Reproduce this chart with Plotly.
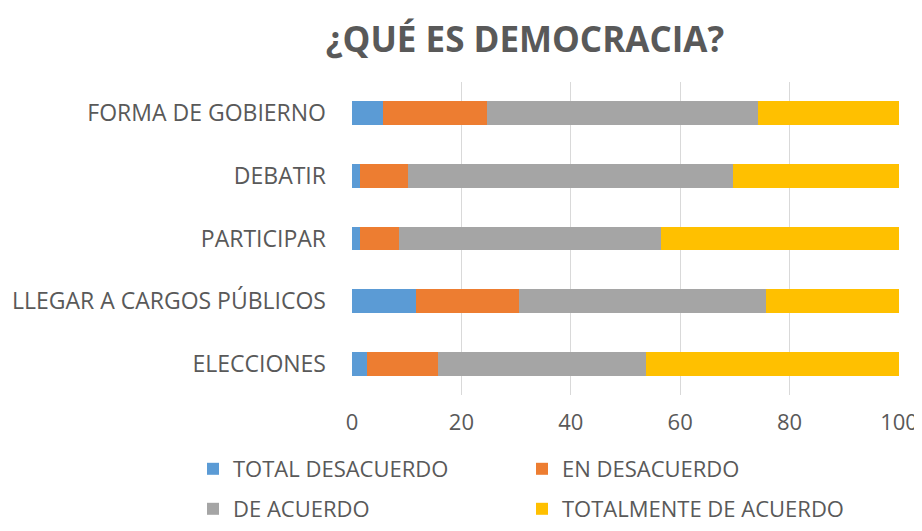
import plotly.graph_objects as go

categories = ["FORMA DE GOBIERNO", "DEBATIR", "PARTICIPAR", "LLEGAR A CARGOS PÚBLICOS", "ELECCIONES"]
total_desacuerdo = [5.6, 1.4, 1.4, 11.7, 2.7]
en_desacuerdo = [19.1, 8.8, 7.1, 18.8, 13.1]
de_acuerdo = [49.5, 59.4, 47.9, 45.1, 37.9]
totalmente_de_acuerdo = [25.8, 30.4, 43.6, 24.4, 46.3]
x_ticks = [0, 20, 40, 60, 80, 100]

series = [
    ("TOTAL DESACUERDO", total_desacuerdo, "#5B9BD5"),
    ("EN DESACUERDO", en_desacuerdo, "#ED7D31"),
    ("DE ACUERDO", de_acuerdo, "#A5A5A5"),
    ("TOTALMENTE DE ACUERDO", totalmente_de_acuerdo, "#FFC000"),
]
legend_ids = ["legend", "legend2", "legend3", "legend4"]
# page has an 8px body margin; positions are in figure pixels
legend_pos = [(185, 461), (514, 461), (185, 501), (514, 501)]

W, H = 914, 515
FONT = "Open Sans"
TXT = "#595959"

fig = go.Figure()
for (name, vals, color), lg in zip(series, legend_ids):
    fig.add_trace(go.Bar(
        y=categories, x=vals, name=name, orientation="h",
        marker=dict(color=color, line=dict(width=0)),
        legend=lg,
    ))

layout_legends = {}
for lg, (px, py) in zip(legend_ids, legend_pos):
    layout_legends[lg] = dict(
        orientation="h", xref="container", yref="container",
        x=px / W, y=1 - py / H, xanchor="left", yanchor="middle",
        font=dict(family=FONT, size=22, color=TXT),
        itemwidth=30, bgcolor="rgba(0,0,0,0)",
    )

fig.update_layout(
    width=W, height=H,
    barmode="stack", bargap=0.62,
    paper_bgcolor="white", plot_bgcolor="white",
    margin=dict(l=344, r=W - 891, t=74, b=H - 387, autoexpand=False),
    title=dict(text="<b>¿QUÉ ES DEMOCRACIA?</b>", xref="container", x=517 / W, xanchor="center",
               yref="container", y=1 - 32 / H, yanchor="middle",
               font=dict(family=FONT, size=35, color=TXT)),
    xaxis=dict(range=[0, 100], tickvals=x_ticks, showgrid=True, gridcolor="#D9D9D9", gridwidth=1,
               zeroline=False, showline=False, ticks="", ticklabelstandoff=12,
               tickfont=dict(family=FONT, size=22, color=TXT)),
    yaxis=dict(autorange="reversed", showgrid=False, ticks="", ticklabelstandoff=25,
               tickfont=dict(family=FONT, size=23, color=TXT)),
    showlegend=True,
    **layout_legends,
)

fig.write_html("out.html")
